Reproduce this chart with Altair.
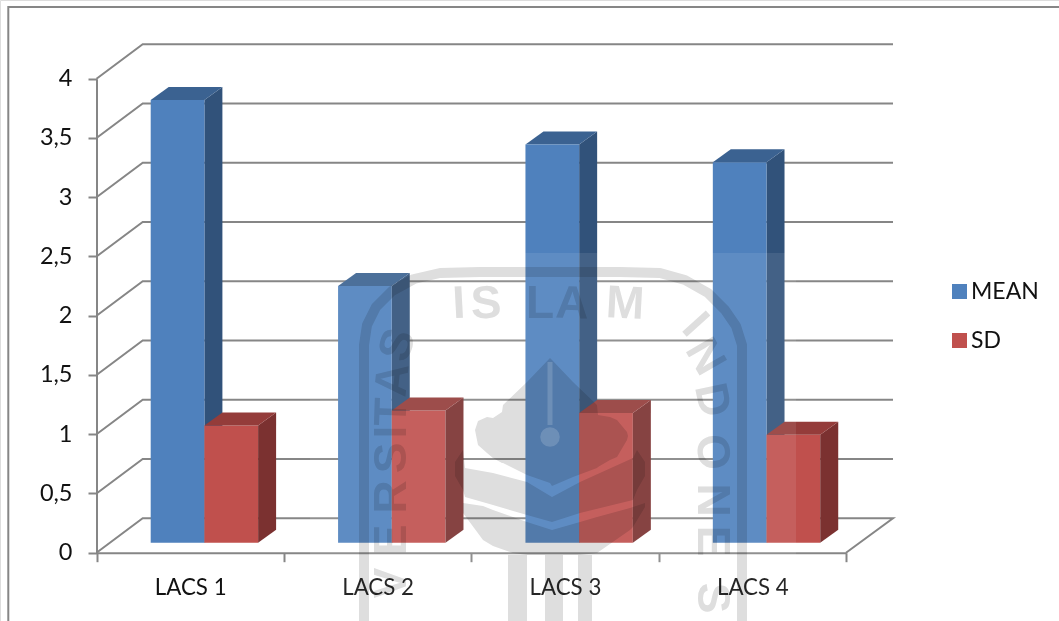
import altair as alt
import pandas as pd

# Chart values
categories = ["LACS 1", "LACS 2", "LACS 3", "LACS 4"]
mean_values = [3.735, 2.167, 3.36, 3.21]
sd_values = [0.99, 1.116, 1.095, 0.912]
y_ticks = [0, 0.5, 1, 1.5, 2, 2.5, 3, 3.5, 4]

# Drawing geometry of the pseudo-3D box (canvas pixels)
W, H = 1059, 621
AXIS_X, AXIS_END_X, AXIS_Y = 96.5, 846.0, 552.7
BACK_X, BACK_END_X = 142.7, 893.0
BACK_DY = 34.4
UNIT = 118.5
SLOT = (AXIS_END_X - AXIS_X) / len(categories)
BAR_LEFT, BAR_W = 150.7, 53.7
BAR_LIFT, DEPTH_X, DEPTH_Y = 10.0, 18.0, 13.0
LINE = "#868686"
FONT = "Lato"

pos_x = alt.Scale(domain=[0, W], range=[0, W])
val_y = alt.Scale(domain=[(AXIS_Y - H) / UNIT, AXIS_Y / UNIT], range=[H, 0])
pix_y = alt.Scale(domain=[H, 0], range=[H, 0])


def qx(field="x"):
    return alt.X(f"{field}:Q", scale=pos_x, axis=None)


def vy(field="y"):
    return alt.Y(f"{field}:Q", scale=val_y, axis=None)


def py(field="y"):
    return alt.Y(f"{field}:Q", scale=pix_y, axis=None)


def lift(px):
    return px / UNIT


# Back wall and floor lines
wall_rows = []
for v in y_ticks:
    wall_rows.append({"k": v, "o": 0, "x": AXIS_X, "y": v})
    wall_rows.append({"k": v, "o": 1, "x": BACK_X, "y": v + lift(BACK_DY)})
    wall_rows.append({"k": v, "o": 2, "x": BACK_END_X, "y": v + lift(BACK_DY)})
wall_rows.append({"k": 0, "o": 3, "x": AXIS_END_X, "y": 0})
walls = alt.Chart(pd.DataFrame(wall_rows)).mark_line(color=LINE, strokeWidth=2).encode(
    x=qx(), y=vy(), detail="k:N", order="o:Q"
)

# Outer frame of the chart
frame = alt.Chart(pd.DataFrame({"x": [8.3, 8.3, W], "y": [H, 7, 7], "o": [0, 1, 2]})).mark_line(
    color=LINE, strokeWidth=2
).encode(x=qx(), y=py(), order="o:Q")

# Real axes on their own scales: band ticks on x, 0-4 on y
axis_df = pd.DataFrame({"c": categories, "v": mean_values})
axes = alt.Chart(axis_df).mark_point(opacity=0).encode(
    x=alt.X(
        "c:N",
        sort=categories,
        title=None,
        scale=alt.Scale(type="band", domain=categories, range=[AXIS_X, AXIS_END_X], paddingInner=0, paddingOuter=0),
        axis=alt.Axis(
            orient="bottom", offset=AXIS_Y - H, tickBand="extent", labelAngle=0, tickSize=9, labelPadding=15,
            labelFont=FONT, labelFontSize=22.3, labelColor="#111111", tickColor=LINE, domainColor=LINE,
            tickWidth=2, domainWidth=2, grid=False,
        ),
    ),
    y=alt.Y(
        "v:Q",
        title=None,
        scale=alt.Scale(domain=[0, 4], range=[AXIS_Y, AXIS_Y - 4 * UNIT], nice=False),
        axis=alt.Axis(
            orient="left", offset=-AXIS_X, values=y_ticks, tickSize=8.5, labelPadding=16,
            labelExpr="replace(datum.label, '.', ',')", format="~g",
            labelFont=FONT, labelFontSize=23.5, labelColor="#111111", tickColor=LINE, domainColor=LINE,
            tickWidth=2, domainWidth=2, grid=False,
        ),
    ),
)

# Bar faces built from the values
series = [("MEAN", mean_values), ("SD", sd_values)]
front_rows, side_rows, top_rows = [], [], []
for s_i, (name, values) in enumerate(series):
    for c_i, (cat, v) in enumerate(zip(categories, values)):
        x0 = BAR_LEFT + c_i * SLOT + s_i * BAR_W
        x1 = x0 + BAR_W
        base = lift(BAR_LIFT)
        d = lift(DEPTH_Y)
        top = v + base
        key = f"{name}{c_i}"
        front_rows.append({"s": name, "x": x0, "x2": x1, "y": top, "y2": base})
        side_rows += [
            {"s": name, "k": key, "x": x1, "y": top, "y2": base},
            {"s": name, "k": key, "x": x1 + DEPTH_X, "y": top + d, "y2": base + d},
        ]
        top_rows += [
            {"s": name, "k": key, "x": x0, "y": top, "y2": top},
            {"s": name, "k": key, "x": x0 + DEPTH_X, "y": top + d, "y2": top},
            {"s": name, "k": key, "x": x1, "y": top + d, "y2": top},
            {"s": name, "k": key, "x": x1 + DEPTH_X, "y": top + d, "y2": top + d},
        ]
front_df = pd.DataFrame(front_rows)
side_df = pd.DataFrame(side_rows)
top_df = pd.DataFrame(top_rows)


def faces(df, name, color):
    part = df[df["s"] == name]
    return alt.Chart(part).mark_area(color=color, opacity=1, line=False, interpolate="linear").encode(
        x=qx(), y=vy(), y2="y2:Q", detail="k:N"
    )


mean_side = faces(side_df, "MEAN", "#31527A")
mean_top = faces(top_df, "MEAN", "#3B6291")
sd_side = faces(side_df, "SD", "#7B3130")
sd_top = faces(top_df, "SD", "#943C3A")

fronts = alt.Chart(front_df).mark_rect().encode(
    x=qx(),
    x2="x2:Q",
    y=vy(),
    y2="y2:Q",
    color=alt.Color(
        "s:N",
        scale=alt.Scale(domain=["MEAN", "SD"], range=["#4F81BD", "#C0504D"]),
        legend=alt.Legend(
            title=None, orient="none", legendX=948, legendY=280, symbolType="square", symbolSize=225,
            symbolStrokeWidth=0, symbolOpacity=1, labelFont=FONT, labelFontSize=23, labelColor="#111111",
            labelOffset=0, rowPadding=25,
        ),
    ),
)

# Faint seal printed across the page
haze = alt.Chart(pd.DataFrame({"x": [310], "x2": [796], "y": [253], "y2": [H]})).mark_rect(
    color="white", opacity=0.09
).encode(x=qx(), x2="x2:Q", y=py(), y2="y2:Q")

SEAL = "#DEDEDE"


def seal_area(xs, tops, lows):
    frame_df = pd.DataFrame({"x": xs, "y": tops, "y2": lows})
    return alt.Chart(frame_df).mark_area(color=SEAL, blend="multiply", interpolate="linear").encode(
        x=qx(), y=py(), y2="y2:Q"
    )


arch_x = [364, 364, 367, 376, 392, 414, 440, 480, 550, 620, 660, 685, 708, 725, 736, 742, 742]
arch_y = [621, 345, 325, 307, 291, 279, 273, 272, 272, 272, 273, 280, 293, 310, 326, 345, 621]
arch = alt.Chart(pd.DataFrame({"x": arch_x, "y": arch_y, "o": range(len(arch_x))})).mark_line(
    color=SEAL, strokeWidth=10, blend="multiply", strokeCap="butt", strokeJoin="round"
).encode(x=qx(), y=py(), order="o:Q")

crest = seal_area(
    [475, 478, 487, 493, 502, 503, 527, 550, 552, 573, 597, 598, 610, 617, 627, 628],
    [430, 421, 417, 418, 412, 405, 382, 358, 360, 382, 405, 415, 417, 420, 432, 436],
    [430, 445, 453, 458, 463, 463, 475, 483, 486, 477, 468, 467, 460, 457, 440, 436],
)
band_upper = seal_area(
    [455, 463, 465, 493, 527, 552, 580, 633, 637, 645],
    [462, 450, 468, 473, 482, 497, 482, 458, 450, 462],
    [476, 490, 497, 505, 515, 522, 513, 500, 490, 476],
)
band_lower = seal_area(
    [463, 483, 493, 513, 527, 552, 580, 597, 630, 633, 645],
    [503, 506, 510, 517, 522, 530, 522, 517, 508, 507, 503],
    [513, 540, 546, 553, 555, 555, 555, 553, 530, 527, 507],
)

# Pen nib inside the crest
nib_stem = alt.Chart(pd.DataFrame({"x": [550, 550], "y": [362, 425]})).mark_line(
    color="#FFFFFF", strokeWidth=5, opacity=0.16
).encode(x=qx(), y=py())
nib_dot = alt.Chart(pd.DataFrame({"x": [550], "y": [437]})).mark_point(
    color="#FFFFFF", filled=True, size=380, opacity=0.16
).encode(x=qx(), y=py())

# Pillars under the crest
pillars = alt.Chart(pd.DataFrame({
    "x": [508, 545, 578],
    "x2": [527, 563, 592],
    "y": [555, 555, 555],
    "y2": [H, H, H],
})).mark_rect(color=SEAL, blend="multiply").encode(x=qx(), x2="x2:Q", y=py(), y2="y2:Q")

seal_chars = list("ISLAM") + list("VERSITAS") + list("INDONES")
seal_x = [459, 486, 540, 572, 625,
          392, 392, 392, 392, 392, 392, 393, 398,
          695, 705, 712, 712, 712, 712, 712]
seal_y = [304, 304, 304, 304, 304,
          583, 540, 497, 458, 432, 412, 380, 345,
          325, 357, 400, 452, 500, 541, 598]
seal_angle = [-3, -2, 0, 2, 3,
              -90, -90, -90, -90, -90, -88, -84, -72,
              48, 60, 78, 85, 90, 90, 90]
letters = alt.Chart(pd.DataFrame({
    "t": seal_chars, "x": seal_x, "y": seal_y, "a": seal_angle,
})).mark_text(
    font="Liberation Sans", fontWeight="bold", fontSize=46, color=SEAL, blend="multiply",
    baseline="middle", align="center",
).encode(x=qx(), y=py(), text="t:N", angle=alt.Angle("a:Q", scale=None))

chart = alt.layer(
    walls, frame, axes,
    mean_side, mean_top, fronts, sd_side, sd_top,
    haze, arch, crest, band_upper, band_lower, pillars, letters, nib_stem, nib_dot,
).resolve_scale(x="independent", y="independent").properties(
    width=W, height=H, padding=0, autosize=alt.AutoSizeParams(type="none", contains="content"),
).configure_view(stroke=None).configure(background="white")

chart.save("out.html", embed_options={"renderer": "svg", "actions": False})
